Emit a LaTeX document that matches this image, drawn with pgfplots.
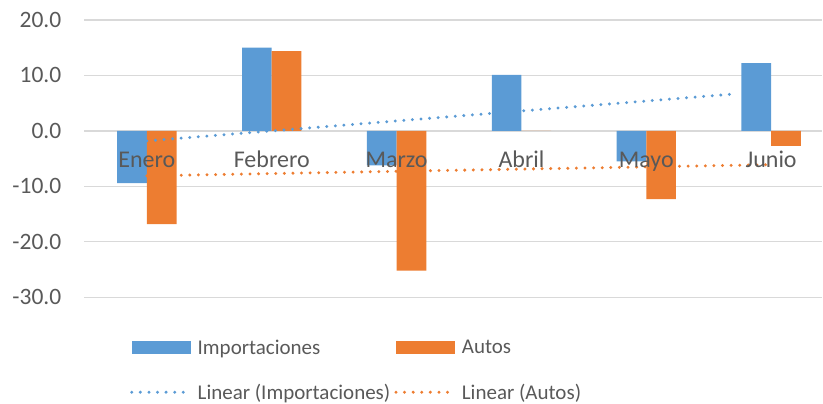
\documentclass[border=0pt]{standalone}
\usepackage{pgfplots}
\pgfplotsset{compat=1.18}
\usepackage{fontspec}
\setmainfont{Carlito}
\definecolor{cblue}{HTML}{5B9BD5}
\definecolor{corange}{HTML}{ED7D31}
\definecolor{cgrid}{HTML}{D9D9D9}
\definecolor{ctext}{HTML}{595959}
\begin{document}
\begin{tikzpicture}
\begin{axis}[
  set layers=standard,
  at={(84.5pt,106.5pt)}, anchor=south west,
  scale only axis, width=738.5pt, height=277.5pt,
  xmin=-0.5, xmax=5.41, ymin=-30, ymax=20,
  axis line style={draw=none},
  ytick={-30,-20,...,20},
  yticklabel={\pgfmathprintnumber[fixed, fixed zerofill, precision=1, assume math mode=true]{\tick}},
  xtick={0,...,5},
  xticklabels={Enero,Febrero,Marzo,Abril,Mayo,Junio},
  major tick length=0pt,
  ymajorgrids, grid style={cgrid, line width=1.3pt},
  yticklabel style={font=\fontsize{23.5}{28}\selectfont, text=ctext, inner sep=0pt, anchor=east, xshift=-23pt},
  xticklabel style={/pgfplots/on layer=axis foreground, font=\fontsize{24}{28}\selectfont, text=ctext, inner sep=0pt, anchor=base, yshift=129.5pt},
  legend columns=2, legend cell align=left,
  legend style={at={(0.0616,-0.153)}, anchor=north west, draw=none, fill=none, inner sep=0pt,
    nodes={inner sep=0pt}, font=\fontsize{21}{25}\selectfont, text=ctext, row sep=28pt,
    /tikz/every odd column/.append style={column sep=7pt},
    /tikz/every even column/.append style={column sep=4pt}},
]
% bars
\addplot[ybar, bar width=29.7pt, bar shift=-14.85pt, fill=cblue, draw=none,
  legend image code/.code={\fill[cblue] (0pt,-6.5pt) rectangle (59pt,6.5pt);}]
  coordinates {(0,-9.4) (1,15.0) (2,-6.2) (3,10.1) (4,-5.5) (5,12.2)};
\addlegendentry{Importaciones}
\addplot[ybar, bar width=29.7pt, bar shift=14.85pt, fill=corange, draw=none,
  legend image code/.code={\fill[corange] (0pt,-6.5pt) rectangle (59pt,6.5pt);}]
  coordinates {(0,-16.8) (1,14.4) (2,-25.2) (3,0) (4,-12.3) (5,-2.7)};
\addlegendentry{Autos}
% linear trend lines
\addplot[cblue, line width=3.3pt, dash pattern=on 0pt off 8.6pt, line cap=round,
  legend image code/.code={\draw[cblue, line width=3.3pt, dash pattern=on 0pt off 8.6pt, line cap=round] (0pt,0pt) -- (56pt,0pt);}]
  coordinates {(0,-1.8) (4.73,6.7)};
\addlegendentry{Linear (Importaciones)}
\addplot[corange, line width=3.3pt, dash pattern=on 0pt off 8.6pt, line cap=round,
  legend image code/.code={\draw[corange, line width=3.3pt, dash pattern=on 0pt off 8.6pt, line cap=round] (0pt,0pt) -- (56pt,0pt);}]
  coordinates {(0,-8.1) (4.96,-6.1)};
\addlegendentry{Linear (Autos)}
\end{axis}
\useasboundingbox (0,0) rectangle (823pt,404pt);
\end{tikzpicture}
\end{document}
